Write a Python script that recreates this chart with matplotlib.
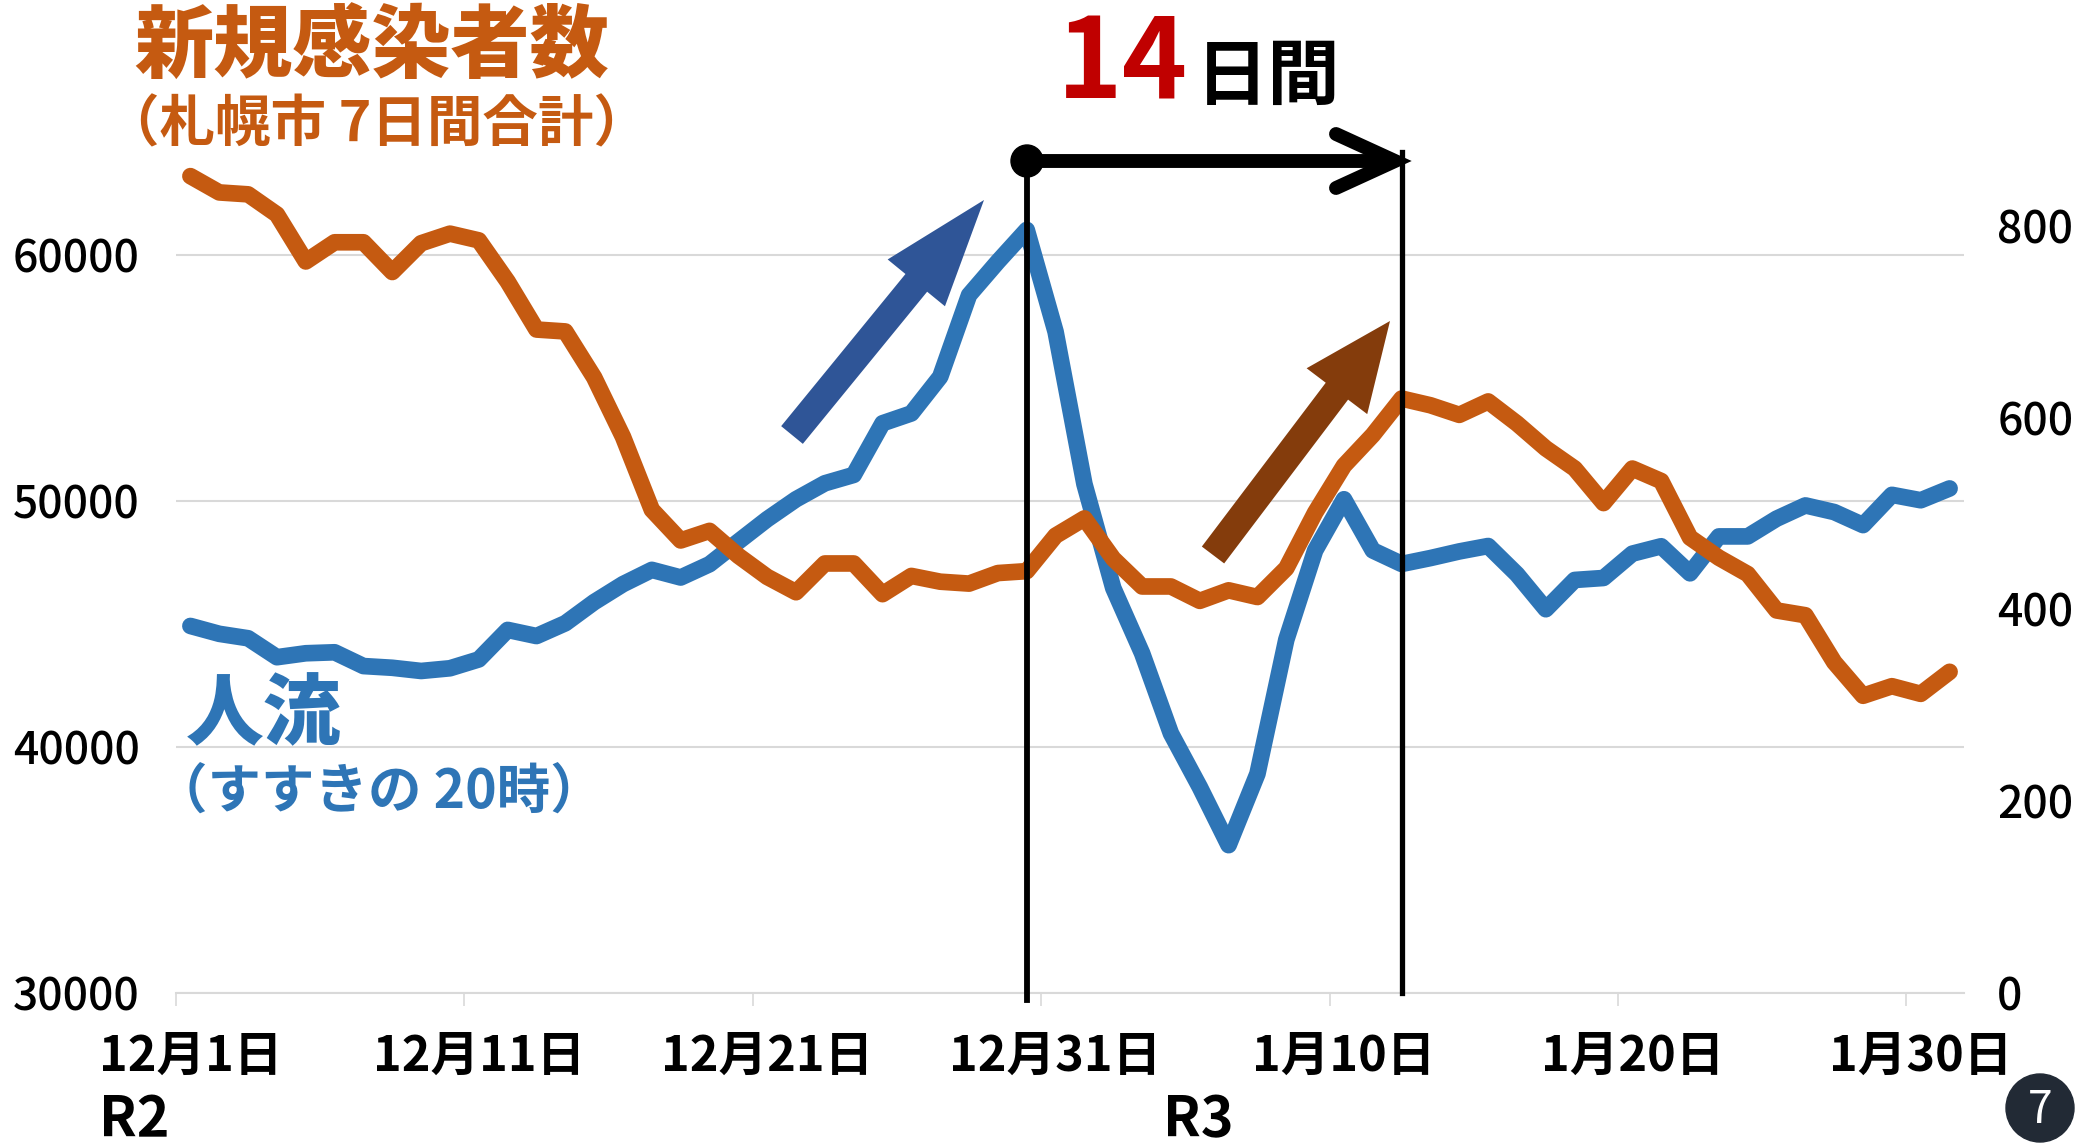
import numpy as np
import matplotlib.pyplot as plt
from matplotlib.patches import Polygon, Circle
from matplotlib.lines import Line2D

plt.rcParams['font.family'] = ['Noto Sans CJK JP', 'DejaVu Sans']

W, H = 2075, 1147

# --- data: 12/1 (R2) .. 1/31 (R3), one value per day ---
tick_days = [0, 10, 20, 30, 40, 50, 60]
tick_labels = ['12月1日', '12月11日', '12月21日', '12月31日', '1月10日', '1月20日', '1月30日']

# 人流（すすきの 20時） - left axis
flow = [44920, 44600, 44420, 43650, 43810, 43850, 43290, 43220, 43090, 43200,
        43560, 44760, 44510, 45030, 45890, 46620, 47200, 46890, 47430, 48350,
        49260, 50070, 50720, 51060, 53160, 53560, 55050, 58370, 59730, 61020,
        56880, 50690, 46460, 43810, 40550, 38370, 36010, 38910, 44360, 47990,
        50070, 47990, 47440, 47680, 47950, 48170, 47020, 45600, 46790, 46870,
        47860, 48160, 47060, 48560, 48560, 49280, 49820, 49550, 49020, 50250,
        50030, 50510]

# 新規感染者数（札幌市 7日間合計） - right axis
cases = [852, 835, 833, 812, 763, 783, 783, 752, 782, 792,
         785, 742, 692, 690, 642, 580, 504, 472, 482, 456,
         434, 418, 448, 448, 416, 435, 429, 427, 438, 440,
         477, 495, 453, 424, 424, 409, 420, 413, 443, 501,
         550, 582, 620, 613, 603, 617, 594, 568, 547, 511,
         547, 534, 475, 454, 437, 399, 394, 345, 310, 320,
         312, 335]

peak_flow_day = 29    # 12/30
peak_cases_day = 42   # 1/12

ORANGE = '#C55A11'
BLUE = '#2E75B6'
GRID = '#D9D9D9'

days = np.arange(len(flow))

fig = plt.figure(figsize=(W / 100, H / 100), dpi=100)
fig.patch.set_facecolor('white')

# axes box in pixels: left 176, right 1964, top 100, bottom 993
ax = fig.add_axes([176 / W, 1 - 993 / H, (1964 - 176) / W, (993 - 100) / H])
ax2 = ax.twinx()

ax.plot(days, flow, color=BLUE, lw=12, solid_capstyle='round', solid_joinstyle='round', zorder=3)
ax2.plot(days, cases, color=ORANGE, lw=12, solid_capstyle='round', solid_joinstyle='round', zorder=3)

ax.set_xlim(-0.5, len(flow) - 0.5)
ax.set_ylim(30000, 66300)
ax2.set_ylim(0, 931.4)

ax.set_yticks([30000, 40000, 50000, 60000])
ax2.set_yticks([0, 200, 400, 600, 800])
ax.yaxis.grid(True, color=GRID, lw=1.5)
ax.set_axisbelow(True)

for a in (ax, ax2):
    for s in ('top', 'left', 'right'):
        a.spines[s].set_visible(False)
ax2.spines['bottom'].set_visible(False)
ax.spines['bottom'].set_color(GRID)
ax.spines['bottom'].set_linewidth(1.5)

ax.set_xticks(tick_days)
ax.set_xticklabels(tick_labels, fontsize=35, fontweight='bold')
ax.set_xticks([d - 0.5 for d in tick_days], minor=True)
ax.tick_params(axis='x', which='major', length=0, pad=28)
ax.tick_params(axis='x', which='minor', length=9.5, width=1.2, color=GRID)

ax.tick_params(axis='y', length=0, pad=26, labelsize=32)
ax2.tick_params(axis='y', length=0, pad=24, labelsize=32)
for lab in ax.get_yticklabels() + ax2.get_yticklabels():
    lab.set_fontweight('medium')

# vertical markers (blue peak -> orange peak, 14 days)
ax2.axvline(peak_flow_day, ymin=-0.008, ymax=(993 - 161) / 893, color='black', lw=4.2, zorder=5, clip_on=False)
ax2.axvline(peak_cases_day, ymin=0, ymax=(993 - 152) / 893, color='black', lw=3.8, zorder=5, clip_on=False)

# overlay in pixel coordinates for annotations
ov = fig.add_axes([0, 0, 1, 1], zorder=10)
ov.set_xlim(0, W)
ov.set_ylim(H, 0)
ov.axis('off')
ov.patch.set_alpha(0)


def block_arrow(tail, tip, shaft_w, head_w, head_len, color):
    t = np.array(tail, float)
    p = np.array(tip, float)
    u = (p - t) / np.hypot(*(p - t))
    n = np.array([-u[1], u[0]])
    b = p - u * head_len
    pts = [t + n * shaft_w / 2, b + n * shaft_w / 2, b + n * head_w / 2, p,
           b - n * head_w / 2, b - n * shaft_w / 2, t - n * shaft_w / 2]
    ov.add_patch(Polygon(pts, closed=True, facecolor=color, edgecolor='none'))


block_arrow((792, 435), (984, 200), 28, 74, 107, '#2F5597')
block_arrow((1213, 555), (1390, 321), 28, 76, 88, '#843C0C')

# black 14-day arrow
ov.add_line(Line2D([1027, 1390], [161, 161], color='black', lw=10, solid_capstyle='butt'))
ov.add_line(Line2D([1336, 1395, 1336], [134, 161, 188], color='black', lw=10,
                   solid_capstyle='round', solid_joinstyle='miter'))
ov.add_patch(Circle((1027, 161), 16, color='black'))

ov.text(1122, 66, '14', color='#C00000', fontsize=80, fontweight='bold', ha='center', va='center')
ov.text(1268, 78, '日間', color='black', fontsize=52, fontweight='bold', ha='center', va='center')

# series titles
ov.text(372, 48, '新規感染者数', color=ORANGE, fontsize=57, fontweight='heavy', ha='center', va='center')
ov.text(376, 125, '（札幌市 7日間合計）', color=ORANGE, fontsize=40, fontweight='bold', ha='center', va='center')
ov.text(264, 716, '人流', color=BLUE, fontsize=56, fontweight='heavy', ha='center', va='center')
ov.text(379, 793, '（すすきの 20時）', color=BLUE, fontsize=38.5, fontweight='bold', ha='center', va='center')

# era labels
ov.text(134, 1120, 'R2', fontsize=40, fontweight='bold', ha='center', va='center')
ov.text(1198, 1120, 'R3', fontsize=40, fontweight='bold', ha='center', va='center')

# page badge
ov.add_patch(Circle((2040, 1108), 34, color='#222A35', clip_on=False))
ov.text(2040, 1110, '7', color='white', fontsize=32, ha='center', va='center')

fig.savefig('out.png', dpi=100)
